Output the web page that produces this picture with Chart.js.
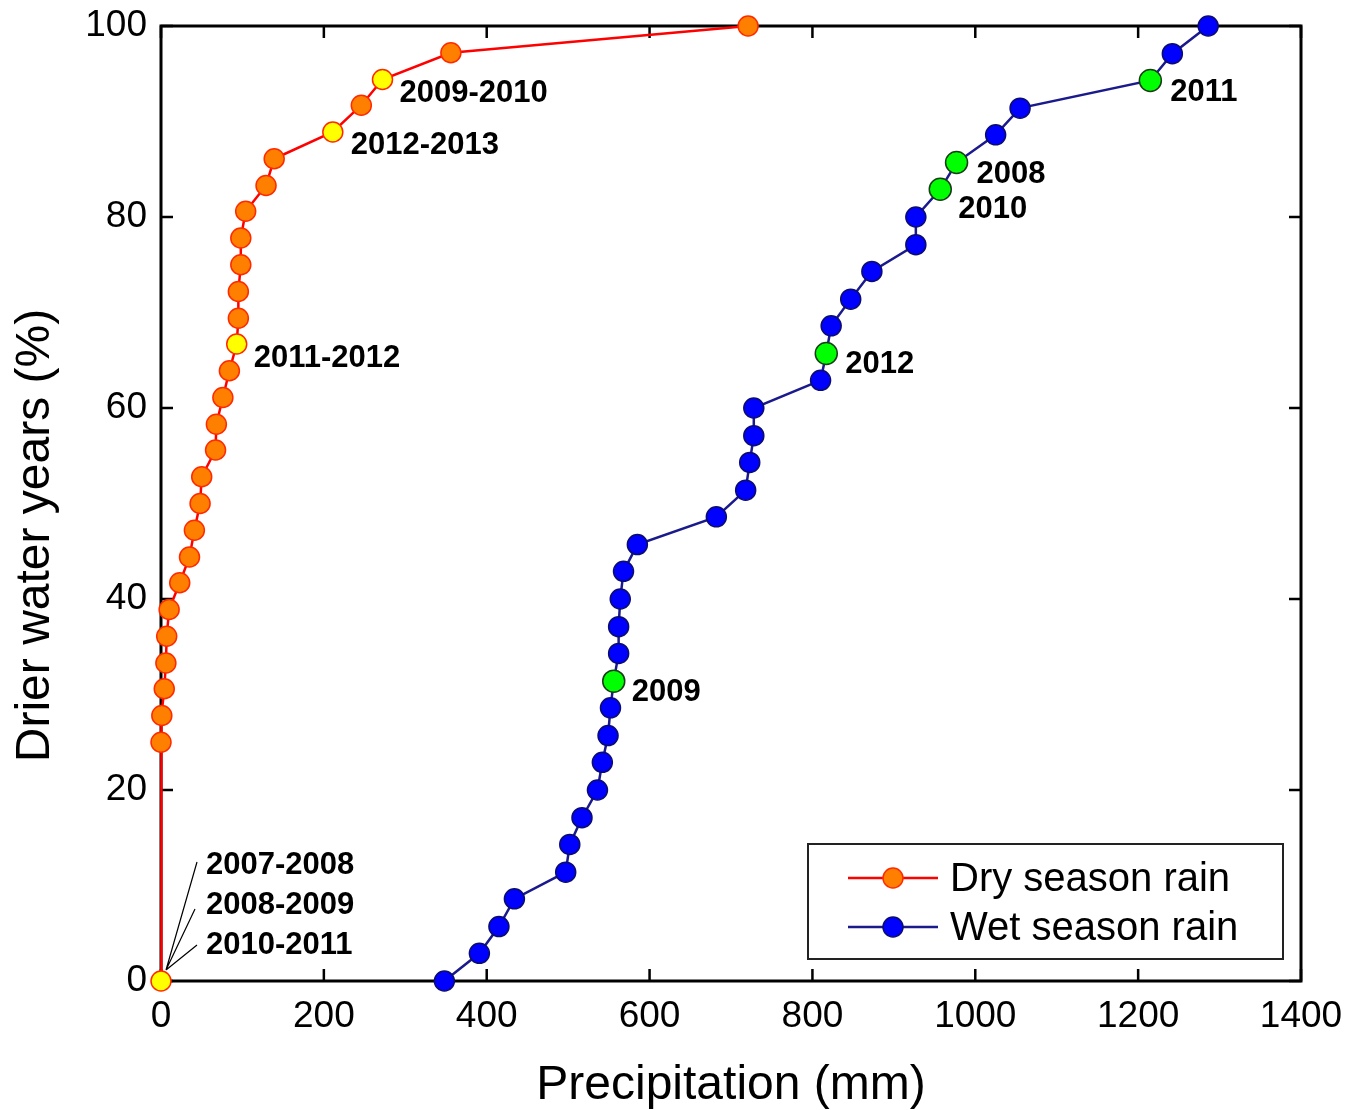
<!DOCTYPE html>
<html>
<head>
<meta charset="utf-8">
<script src="https://cdn.jsdelivr.net/npm/chart.js@4.4.1/dist/chart.umd.min.js"></script>
<style>
  html, body { margin: 0; padding: 0; background: #fff; }
  #grafico { display: block; }
</style>
</head>
<body>
<canvas id="grafico" width="1352" height="1110"></canvas>
<script>
// eixos
const xTicks = [0, 200, 400, 600, 800, 1000, 1200, 1400];
const yTicks = [0, 20, 40, 60, 80, 100];

// chuva da estacao seca (mm) e % de anos mais secos
const dryPrecip = [0, 0, 1, 4, 6, 7, 10, 23, 35, 41, 48, 50, 67, 68, 76, 84, 93, 95, 95, 98, 98, 104, 129, 139, 211, 246, 272, 356, 721];
const dryPercent = [0, 25.0, 27.8, 30.6, 33.3, 36.1, 38.9, 41.7, 44.4, 47.2, 50.0, 52.8, 55.6, 58.3, 61.1, 63.9, 66.7, 69.4, 72.2, 75.0, 77.8, 80.6, 83.3, 86.1, 88.9, 91.7, 94.4, 97.2, 100];

// chuva da estacao umida
const wetPrecip = [348, 391, 415, 434, 497, 502, 517, 536, 542, 549, 552, 556, 562, 562, 564, 568, 585, 682, 718, 723, 728, 728, 810, 817, 823, 847, 873, 927, 927, 957, 977, 1025, 1055, 1215, 1242, 1286];
const wetPercent = [0, 2.9, 5.7, 8.6, 11.4, 14.3, 17.1, 20.0, 22.9, 25.7, 28.6, 31.4, 34.3, 37.1, 40.0, 42.9, 45.7, 48.6, 51.4, 54.3, 57.1, 60.0, 62.9, 65.7, 68.6, 71.4, 74.3, 77.1, 80.0, 82.9, 85.7, 88.6, 91.4, 94.3, 97.1, 100];

// anos destacados
const dryYearIdx = [16, 24, 26];
const dryYearText = ['2011-2012', '2012-2013', '2009-2010'];
const dryZeroYears = ['2007-2008', '2008-2009', '2010-2011'];
const wetYearIdx = [11, 23, 29, 30, 33];
const wetYearText = ['2009', '2012', '2010', '2008', '2011'];

const fonte = 'Arial, "Liberation Sans", sans-serif';

function pontos(xs, ys) {
    return xs.map((x, i) => ({ x: x, y: ys[i] }));
}

const dryMarked = [0].concat(dryYearIdx);
const dryFill = dryPrecip.map((v, i) => dryMarked.includes(i) ? '#ffff00' : '#ff8000');
const wetFill = wetPrecip.map((v, i) => wetYearIdx.includes(i) ? '#00ff00' : '#0000ff');
const wetBorder = wetPrecip.map((v, i) => wetYearIdx.includes(i) ? '#1b3d1b' : '#0b0b70');
const wetRadius = wetPrecip.map((v, i) => wetYearIdx.includes(i) ? 11 : 10);

var ctx = document.getElementById('grafico');

const moldura = {
    id: 'moldura',
    beforeDatasetsDraw(chart) {
        const { ctx, chartArea, scales } = chart;
        const a = chartArea;
        ctx.save();
        ctx.strokeStyle = '#000';
        ctx.lineWidth = 2.5;
        // marcas para dentro
        const len = 12;
        ctx.beginPath();
        xTicks.forEach((t) => {
            const px = scales.x.getPixelForValue(t);
            ctx.moveTo(px, a.bottom); ctx.lineTo(px, a.bottom - len);
            ctx.moveTo(px, a.top); ctx.lineTo(px, a.top + len);
        });
        yTicks.forEach((t) => {
            const py = scales.y.getPixelForValue(t);
            ctx.moveTo(a.left, py); ctx.lineTo(a.left + len, py);
            ctx.moveTo(a.right, py); ctx.lineTo(a.right - len, py);
        });
        ctx.stroke();
        ctx.lineWidth = 3;
        ctx.strokeRect(a.left, a.top, a.right - a.left, a.bottom - a.top);

        // titulo do eixo y
        ctx.fillStyle = '#000';
        ctx.font = '48px ' + fonte;
        ctx.textAlign = 'center';
        ctx.textBaseline = 'middle';
        ctx.translate(36, (a.top + a.bottom) / 2 + 32);
        ctx.rotate(-Math.PI / 2);
        ctx.fillText('Drier water years (%)', 0, 0);
        ctx.restore();
    },
    afterDatasetsDraw(chart) {
        const { ctx, chartArea, scales } = chart;
        const sx = scales.x, sy = scales.y;
        ctx.save();
        ctx.fillStyle = '#000';
        ctx.font = 'bold 31px ' + fonte;
        ctx.textBaseline = 'middle';
        ctx.textAlign = 'left';

        const dryOff = [[17, 14], [18, 13], [17, 14]];
        dryYearIdx.forEach((idx, i) => {
            const px = sx.getPixelForValue(dryPrecip[idx]);
            const py = sy.getPixelForValue(dryPercent[idx]);
            ctx.fillText(dryYearText[i], px + dryOff[i][0], py + dryOff[i][1]);
        });
        const wetOff = [[18, 11], [19, 11], [18, 20], [20, 12], [20, 12]];
        wetYearIdx.forEach((idx, i) => {
            const px = sx.getPixelForValue(wetPrecip[idx]);
            const py = sy.getPixelForValue(wetPercent[idx]);
            ctx.fillText(wetYearText[i], px + wetOff[i][0], py + wetOff[i][1]);
        });

        // anos com chuva zero
        const x0 = sx.getPixelForValue(dryPrecip[0]);
        const y0 = sy.getPixelForValue(dryPercent[0]);
        const fim = [[36, -119], [34, -72], [36, -36]];
        ctx.strokeStyle = '#000';
        ctx.lineWidth = 1.2;
        ctx.beginPath();
        fim.forEach((f) => {
            ctx.moveTo(x0 + 5, y0 - 11);
            ctx.lineTo(x0 + f[0], y0 + f[1]);
        });
        ctx.stroke();
        dryZeroYears.forEach((txt, i) => {
            ctx.fillText(txt, x0 + 45, y0 - 116 + i * 40);
        });

        // legenda
        const bx = chartArea.right - 493, by = chartArea.bottom - 137;
        const bw = 475, bh = 115;
        ctx.strokeStyle = '#222';
        ctx.lineWidth = 2;
        ctx.strokeRect(bx, by, bw, bh);
        const linhas = [
            { txt: 'Dry season rain', ds: chart.data.datasets[0], fill: '#ff8000', borda: '#ff2a00', y: by + 34 },
            { txt: 'Wet season rain', ds: chart.data.datasets[1], fill: '#0000ff', borda: '#0b0b70', y: by + 83 }
        ];
        ctx.font = '40px ' + fonte;
        linhas.forEach((l) => {
            ctx.strokeStyle = l.ds.borderColor;
            ctx.lineWidth = 2.5;
            ctx.beginPath();
            ctx.moveTo(bx + 40, l.y); ctx.lineTo(bx + 130, l.y);
            ctx.stroke();
            ctx.beginPath();
            ctx.arc(bx + 85, l.y, 10, 0, Math.PI * 2);
            ctx.fillStyle = l.fill;
            ctx.fill();
            ctx.lineWidth = 1.5;
            ctx.strokeStyle = l.borda;
            ctx.stroke();
            ctx.fillStyle = '#000';
            ctx.fillText(l.txt, bx + 142, l.y + 2);
        });
        ctx.restore();
    }
};

let myChart = new Chart(ctx, {
    type: 'line',
    data: {
        datasets: [{
            label: 'Dry season rain',
            data: pontos(dryPrecip, dryPercent),
            borderColor: '#ff0000',
            borderWidth: 2.5,
            pointBackgroundColor: dryFill,
            pointBorderColor: '#ff2a00',
            pointBorderWidth: 1.5,
            pointRadius: 10,
            tension: 0,
            clip: false
        },
        {
            label: 'Wet season rain',
            data: pontos(wetPrecip, wetPercent),
            borderColor: '#1a1a8c',
            borderWidth: 2.5,
            pointBackgroundColor: wetFill,
            pointBorderColor: wetBorder,
            pointBorderWidth: 1.5,
            pointRadius: wetRadius,
            tension: 0,
            clip: false
        }]
    },
    options: {
        responsive: false,
        animation: false,
        layout: { padding: { top: 26, right: 51, left: 0, bottom: 0 } },
        plugins: {
            legend: { display: false },
            tooltip: { enabled: false }
        },
        scales: {
            x: {
                type: 'linear',
                min: 0,
                max: 1400,
                afterFit(scale) {
                    scale.height = 129;
                    scale.paddingLeft = 0;
                    scale.paddingRight = 0;
                },
                afterBuildTicks(scale) { scale.ticks = xTicks.map((v) => ({ value: v })); },
                grid: { display: false, drawTicks: false },
                border: { display: false },
                ticks: {
                    color: '#000',
                    padding: 14,
                    font: { size: 37, family: fonte },
                    callback: (v) => String(v)
                },
                title: {
                    display: true,
                    text: 'Precipitation (mm)',
                    color: '#000',
                    padding: { top: 0, bottom: -5 },
                    font: { size: 48, family: fonte }
                }
            },
            y: {
                min: 0,
                max: 100,
                afterFit(scale) {
                    scale.width = 161;
                    scale.paddingTop = 0;
                    scale.paddingBottom = 0;
                },
                afterBuildTicks(scale) { scale.ticks = yTicks.map((v) => ({ value: v })); },
                grid: { display: false, drawTicks: false },
                border: { display: false },
                ticks: {
                    color: '#000',
                    padding: 14,
                    font: { size: 37, family: fonte },
                    callback: (v) => String(v)
                },
                title: { display: false }
            }
        }
    },
    plugins: [moldura]
});
</script>
</body>
</html>
